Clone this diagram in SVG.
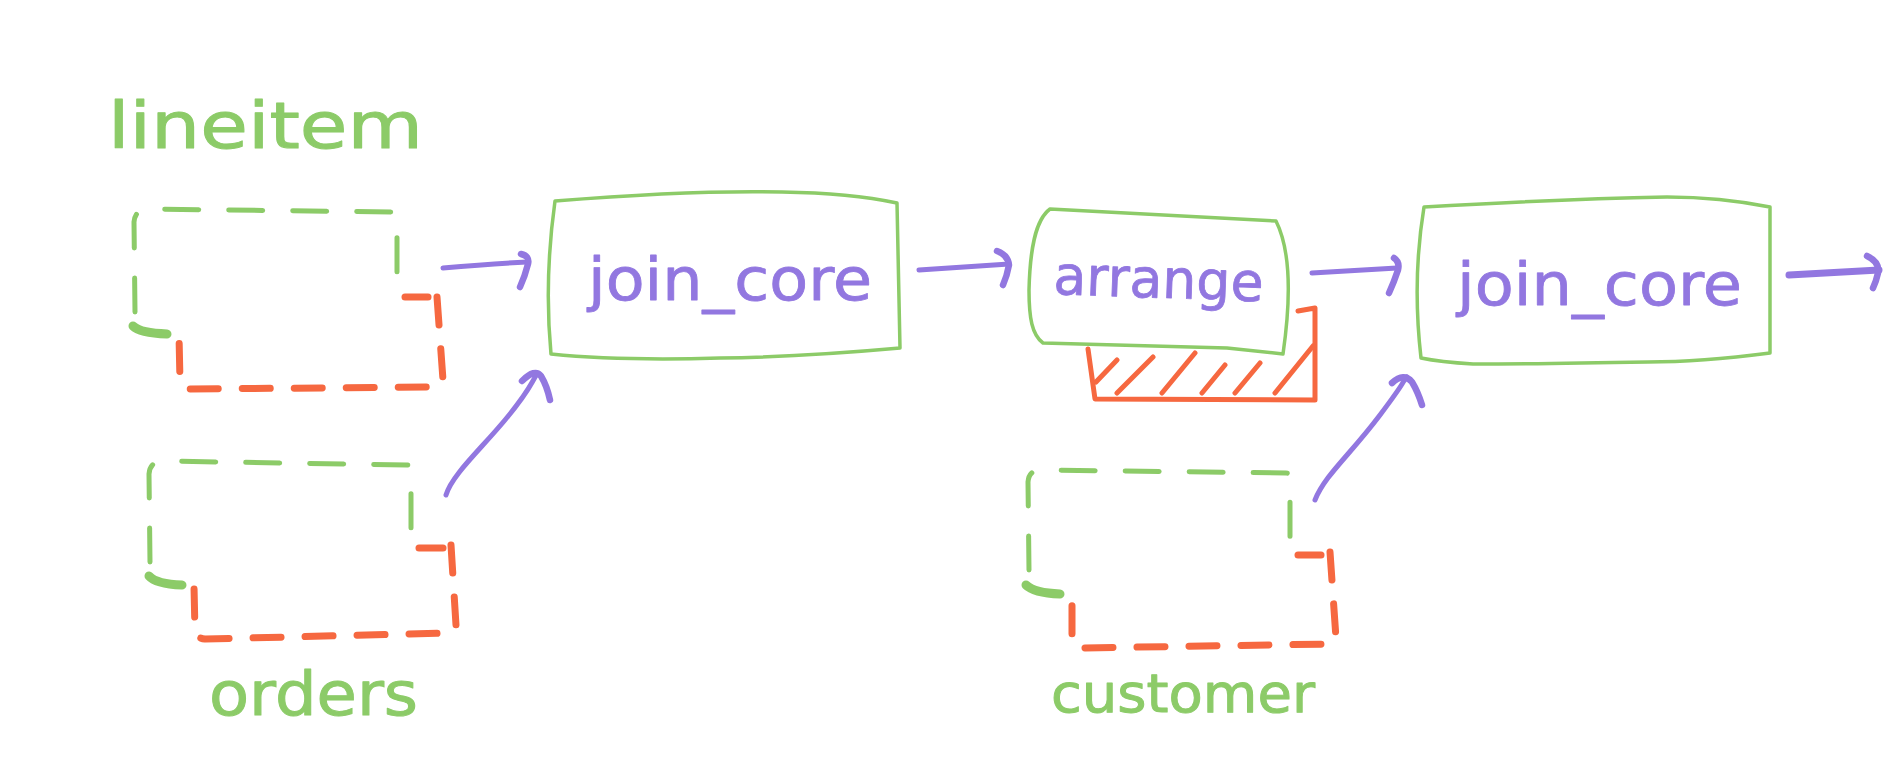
<svg xmlns="http://www.w3.org/2000/svg" width="1902" height="774" viewBox="0 0 1902 774">
<style>
.bg{fill:#ffffff}
.box{fill:none;stroke:#8CCB68;stroke-width:3.5;stroke-linejoin:round;stroke-linecap:round}
.dg{fill:none;stroke:#8CCB68;stroke-width:5;stroke-linecap:round;stroke-linejoin:round;stroke-dasharray:34 30}
.blob{fill:none;stroke:#8CCB68;stroke-width:9;stroke-linecap:round}
.do{fill:none;stroke:#F66840;stroke-width:7;stroke-linecap:round;stroke-linejoin:round;stroke-dasharray:28 24}
.os{fill:none;stroke:#F66840;stroke-width:7;stroke-linecap:round}
.hat{fill:none;stroke:#F66840;stroke-width:5;stroke-linecap:round;stroke-linejoin:round}
.arr{fill:none;stroke:#9277E0;stroke-width:5;stroke-linecap:round}
.hook{fill:none;stroke:#9277E0;stroke-width:6.5;stroke-linecap:round;stroke-linejoin:round}
.tp{font-family:"DejaVu Sans",sans-serif;fill:#9277E0;stroke:#9277E0;stroke-width:0.8;stroke-linejoin:round}
.tg{font-family:"DejaVu Sans",sans-serif;fill:#8CCB68;stroke:#8CCB68;stroke-width:1;stroke-linejoin:round}
</style>
<rect class="bg" x="0" y="0" width="1902" height="774"/>

<g id="lineitem">
<text class="tg" x="108" y="148" font-size="64" textLength="315" lengthAdjust="spacingAndGlyphs">lineitem</text>
<path class="dg" d="M135,312 L134,222 Q135,210 147,209 L393,212 Q397,212 397,218 L397,296"/>
<path class="blob" d="M133,326 Q140,333 167,334"/>
<path class="os" d="M405,297 L428,297"/>
<path class="do" d="M437,297 L443,380 Q443,386 437,387 L190,389 Q181,389 180,382 L179,335"/>
</g>

<g id="orders">
<text class="tg" x="209" y="715" font-size="60" textLength="209" lengthAdjust="spacingAndGlyphs">orders</text>
<path class="dg" d="M150,562 L149,474 Q150,462 162,461 L407,465 Q411,465 411,471 L411,545"/>
<path class="blob" d="M149,576 Q156,584 182,585"/>
<path class="os" d="M419,548 L443,548"/>
<path class="do" d="M451,545 L456,625 Q456,632 450,633 L205,639 Q196,638 195,632 L194,586"/>
</g>

<g id="customer">
<text class="tg" x="1051" y="712" font-size="54" textLength="264" lengthAdjust="spacingAndGlyphs">customer</text>
<path class="dg" d="M1029,570 L1028,482 Q1029,470 1041,470 L1286,473 Q1290,473 1290,479 L1290,553"/>
<path class="blob" d="M1026,585 Q1034,593 1060,594"/>
<path class="os" d="M1298,555 L1321,555"/>
<path class="do" d="M1330,552 L1336,638 Q1335,643 1329,644 L1080,648 Q1073,648 1072,642 L1072,595"/>
</g>

<g id="join_core_1">
<path class="box" d="M555,201 Q690,190 782,192 Q850,193 897,203 L900,348 Q800,357 720,358 Q620,361 551,354 Q544,280 555,201 Z"/>
<text class="tp" x="588" y="300" font-size="58" textLength="284" lengthAdjust="spacingAndGlyphs">join_core</text>
</g>

<g id="arrange">
<path class="hat" d="M1298,311 L1315,308 L1315,400 L1095,399 L1088,349"/>
<path class="hat" d="M1096,382 L1117,360 M1117,393 L1153,357 M1162,393 L1195,353 M1202,393 L1225,365 M1235,393 L1260,363 M1275,393 L1313,346"/>
<path class="box" d="M1050,209 L1276,221 C1288,245 1293,285 1283,354 L1227,348 L1043,343 C1032,335 1029,318 1029,290 C1030,250 1035,220 1050,209 Z"/>
<text class="tp" x="1053" y="294" font-size="54" textLength="210" lengthAdjust="spacingAndGlyphs" transform="rotate(2 1053 294)">arrange</text>
</g>

<g id="join_core_2">
<path class="box" d="M1424,207 Q1560,199 1667,197 Q1720,197 1770,207 L1770,353 Q1700,362 1648,362 Q1540,364 1473,364 Q1440,362 1421,358 Q1412,280 1424,207 Z"/>
<text class="tp" x="1457" y="305" font-size="58" textLength="285" lengthAdjust="spacingAndGlyphs">join_core</text>
</g>

<g id="connectors">
<path class="arr" d="M443,268 Q490,264 527,262"/>
<path class="hook" d="M521,254 Q530,256 528,264 Q525,276 520,287"/>
<path class="arr" d="M446,495 C452,475 480,450 505,420 S530,385 537,374"/>
<path class="hook" d="M522,381 Q535,368 541,376 Q547,386 550,400"/>
<path class="arr" d="M919,270 L1009,264"/>
<path class="hook" d="M997,251 Q1008,255 1009,265 Q1007,276 1003,285"/>
<path class="arr" d="M1312,273 L1397,268"/>
<path class="hook" d="M1394,258 Q1400,262 1398,270 Q1394,282 1389,293"/>
<path class="arr" d="M1315,500 C1325,475 1350,455 1380,415 S1400,385 1407,377"/>
<path class="hook" d="M1392,383 Q1404,372 1412,382 Q1418,392 1422,405"/>
<path class="arr" style="stroke-width:7" d="M1789,275 L1879,270"/>
<path class="hook" d="M1867,256 Q1880,262 1878,273 Q1876,282 1873,288"/>
</g>
</svg>
